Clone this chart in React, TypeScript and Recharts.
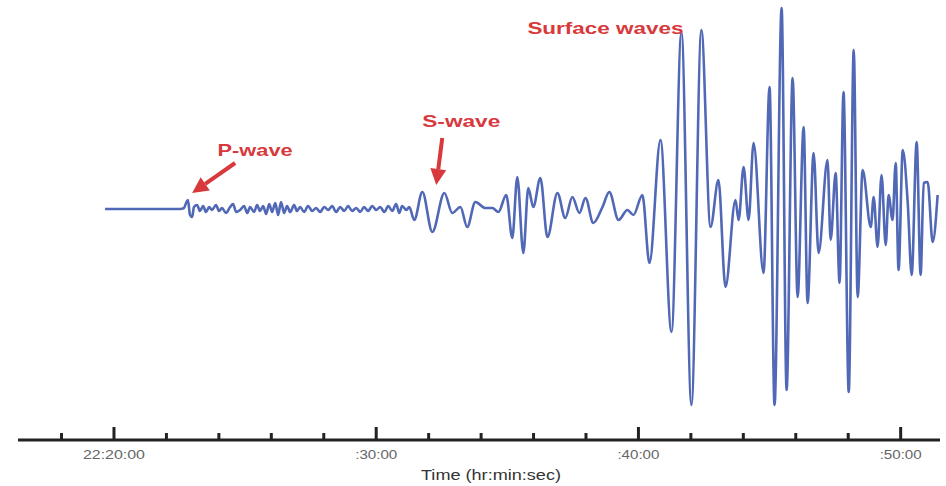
import React from "react";
import { LineChart, Line, XAxis, YAxis, ReferenceDot } from "recharts";

// time = minutes after 22:00:00, amplitude = ground motion (0 = at rest)
const quietTrace: [number, number][] = [
  [19.66, 0], [22.52, 0],
];

const pWaveTrace: [number, number][] = [
  [22.67, 1], [22.75, 6], [22.82, 9], [22.9, -6], [22.98, -8], [23.05, 2], [23.17, 4],
  [23.28, -2], [23.4, 3], [23.51, -3], [23.63, 2], [23.74, -1], [23.89, 4], [24.01, -2],
  [24.12, 1], [24.27, -4], [24.43, 2], [24.54, 5], [24.66, -3], [24.81, -1], [24.96, 3],
  [25.08, -4], [25.19, 2], [25.34, -3], [25.46, 4], [25.57, -2], [25.69, 3], [25.8, -5],
  [25.92, 5], [26.03, -3], [26.15, 6], [26.26, -6], [26.37, 7], [26.49, -4], [26.6, 3],
  [26.72, -3], [26.87, 4], [26.98, -2], [27.1, 2], [27.25, -3], [27.4, 3], [27.56, -2],
  [27.71, 1], [27.86, -3], [28.02, 2], [28.17, -1], [28.32, 3], [28.47, -3], [28.63, 2],
  [28.78, -2], [28.93, 3], [29.08, -2], [29.24, 1], [29.39, -3], [29.54, 2], [29.69, -2],
  [29.85, 3], [30.0, -1], [30.15, 2], [30.31, -3], [30.46, 3], [30.61, -2], [30.76, 5],
  [30.88, -4], [30.99, 3], [31.15, -1], [31.26, 2], [31.45, -11],
];

const sWaveTrace: [number, number][] = [
  [31.76, 17], [32.14, -23], [32.6, 16], [32.9, -4], [33.21, 2], [33.47, -18], [33.78, 7],
  [34.16, 1], [34.43, 1], [34.66, -3], [34.96, 14], [35.19, -29], [35.38, 32], [35.61, -44],
  [35.8, 21], [35.99, 2], [36.26, 31], [36.53, -28], [36.91, 16], [37.21, -9], [37.48, 12],
  [37.75, -4], [37.98, 11], [38.28, -14], [38.63, 2], [38.89, 17], [39.24, -11], [39.58, -1],
  [39.81, -6], [40.15, 14],
];

const surfaceWaveTrace: [number, number][] = [
  [40.42, -54], [40.84, 69], [41.26, -123], [41.64, 177], [42.02, -196], [42.4, 179],
  [42.75, -18], [43.05, 29], [43.32, -78], [43.7, 9], [43.82, -11], [44.01, 42], [44.2, -11],
  [44.39, 66], [44.77, -64], [45.0, 122], [45.19, -196], [45.46, 201], [45.65, -181],
  [45.88, 131], [46.07, -88], [46.3, 82], [46.45, -94], [46.68, 56], [46.87, -44], [47.21, 49],
  [47.33, -31], [47.52, 36], [47.67, -74], [47.82, 117], [48.02, -183], [48.21, 159],
  [48.36, -88], [48.55, 39], [48.86, -18], [48.97, 12], [49.12, -38], [49.27, 34], [49.43, -36],
  [49.54, 14], [49.69, -11], [49.81, 46], [49.92, -61], [50.08, 59], [50.27, 6], [50.42, -66],
  [50.61, 67], [50.76, -66], [50.88, 26], [51.03, 27], [51.22, -33], [51.41, 14],
];

const majorTicks = [20, 30, 40, 50];
const majorLabels = ["22:20:00", ":30:00", ":40:00", ":50:00"];
const minorTicks = [18, 22, 24, 26, 28, 32, 34, 36, 38, 42, 44, 46, 48];

const trace = [...quietTrace, ...pWaveTrace, ...sWaveTrace, ...surfaceWaveTrace].map(
  ([t, v]) => ({ t, v })
);
const allTicks = [...minorTicks, ...majorTicks].sort((a, b) => a - b);

const RED = "#d8393c";
const FONT = "'Liberation Sans', Arial, sans-serif";

function TimeTick(props: any) {
  const { x, y, payload } = props;
  const i = majorTicks.indexOf(payload.value);
  const major = i >= 0;
  return (
    <g>
      <line x1={x} x2={x} y1={y} y2={y - (major ? 13 : 7)} stroke="#222" strokeWidth={3} />
      {major && (
        <text
          x={x}
          y={y + 19}
          textAnchor="middle"
          fontSize={12}
          fontFamily={FONT}
          fill="#666"
          textLength={i === 0 ? 62 : 42}
          lengthAdjust="spacingAndGlyphs"
        >
          {majorLabels[i]}
        </text>
      )}
    </g>
  );
}

// arrow tip sits at the reference point, tail & label are pixel offsets
function Callout(props: any) {
  const { cx, cy, tail, label, labelDx, labelDy, labelWidth } = props;
  let arrow = null;
  if (tail) {
    const [dx, dy] = tail;
    const len = Math.hypot(dx, dy);
    const ux = dx / len;
    const uy = dy / len;
    const head = 16;
    const half = 8;
    const bx = cx + ux * head;
    const by = cy + uy * head;
    const pts = `${cx},${cy} ${bx - uy * half},${by + ux * half} ${bx + uy * half},${by - ux * half}`;
    arrow = (
      <g>
        <line x1={bx} y1={by} x2={cx + dx} y2={cy + dy} stroke={RED} strokeWidth={4} />
        <polygon points={pts} fill={RED} />
      </g>
    );
  }
  return (
    <g>
      {arrow}
      <text
        x={cx + labelDx}
        y={cy + labelDy}
        textAnchor="middle"
        fontSize={17}
        fontWeight="bold"
        fontFamily={FONT}
        fill={RED}
        textLength={labelWidth}
        lengthAdjust="spacingAndGlyphs"
      >
        {label}
      </text>
    </g>
  );
}

export default function App() {
  return (
    <div style={{ position: "absolute", left: 0, top: 0, background: "#fff" }}>
      <LineChart
        width={946}
        height={486}
        data={trace}
        margin={{ top: 0, right: 6, bottom: 0, left: 18 }}
      >
        <XAxis
          dataKey="t"
          type="number"
          domain={[16.34, 51.5]}
          allowDataOverflow
          ticks={allTicks}
          interval={0}
          tickSize={0}
          tickMargin={0}
          tickLine={false}
          axisLine={{ stroke: "#222", strokeWidth: 3 }}
          height={46}
          tick={(p: any) => <TimeTick {...p} />}
          label={{
            content: () => (
              <text
                x={491}
                y={480}
                textAnchor="middle"
                fontSize={14}
                fontFamily={FONT}
                fill="#333"
                textLength={140}
                lengthAdjust="spacingAndGlyphs"
              >
                Time (hr:min:sec)
              </text>
            ),
          }}
        />
        <YAxis type="number" domain={[-231, 209]} allowDataOverflow hide />
        <Line
          type="monotone"
          dataKey="v"
          stroke="#5068b5"
          strokeWidth={2.6}
          dot={false}
          isAnimationActive={false}
        />
        <ReferenceDot
          x={22.98}
          y={16}
          r={0}
          shape={(p: any) => (
            <Callout {...p} tail={[43, -30]} label="P-wave" labelDx={63} labelDy={-37} labelWidth={75} />
          )}
        />
        <ReferenceDot
          x={32.29}
          y={24}
          r={0}
          shape={(p: any) => (
            <Callout {...p} tail={[6, -47]} label="S-wave" labelDx={25} labelDy={-58} labelWidth={78} />
          )}
        />
        <ReferenceDot
          x={38.74}
          y={181}
          r={0}
          shape={(p: any) => (
            <Callout {...p} label="Surface waves" labelDx={0} labelDy={6} labelWidth={156} />
          )}
        />
      </LineChart>
    </div>
  );
}
